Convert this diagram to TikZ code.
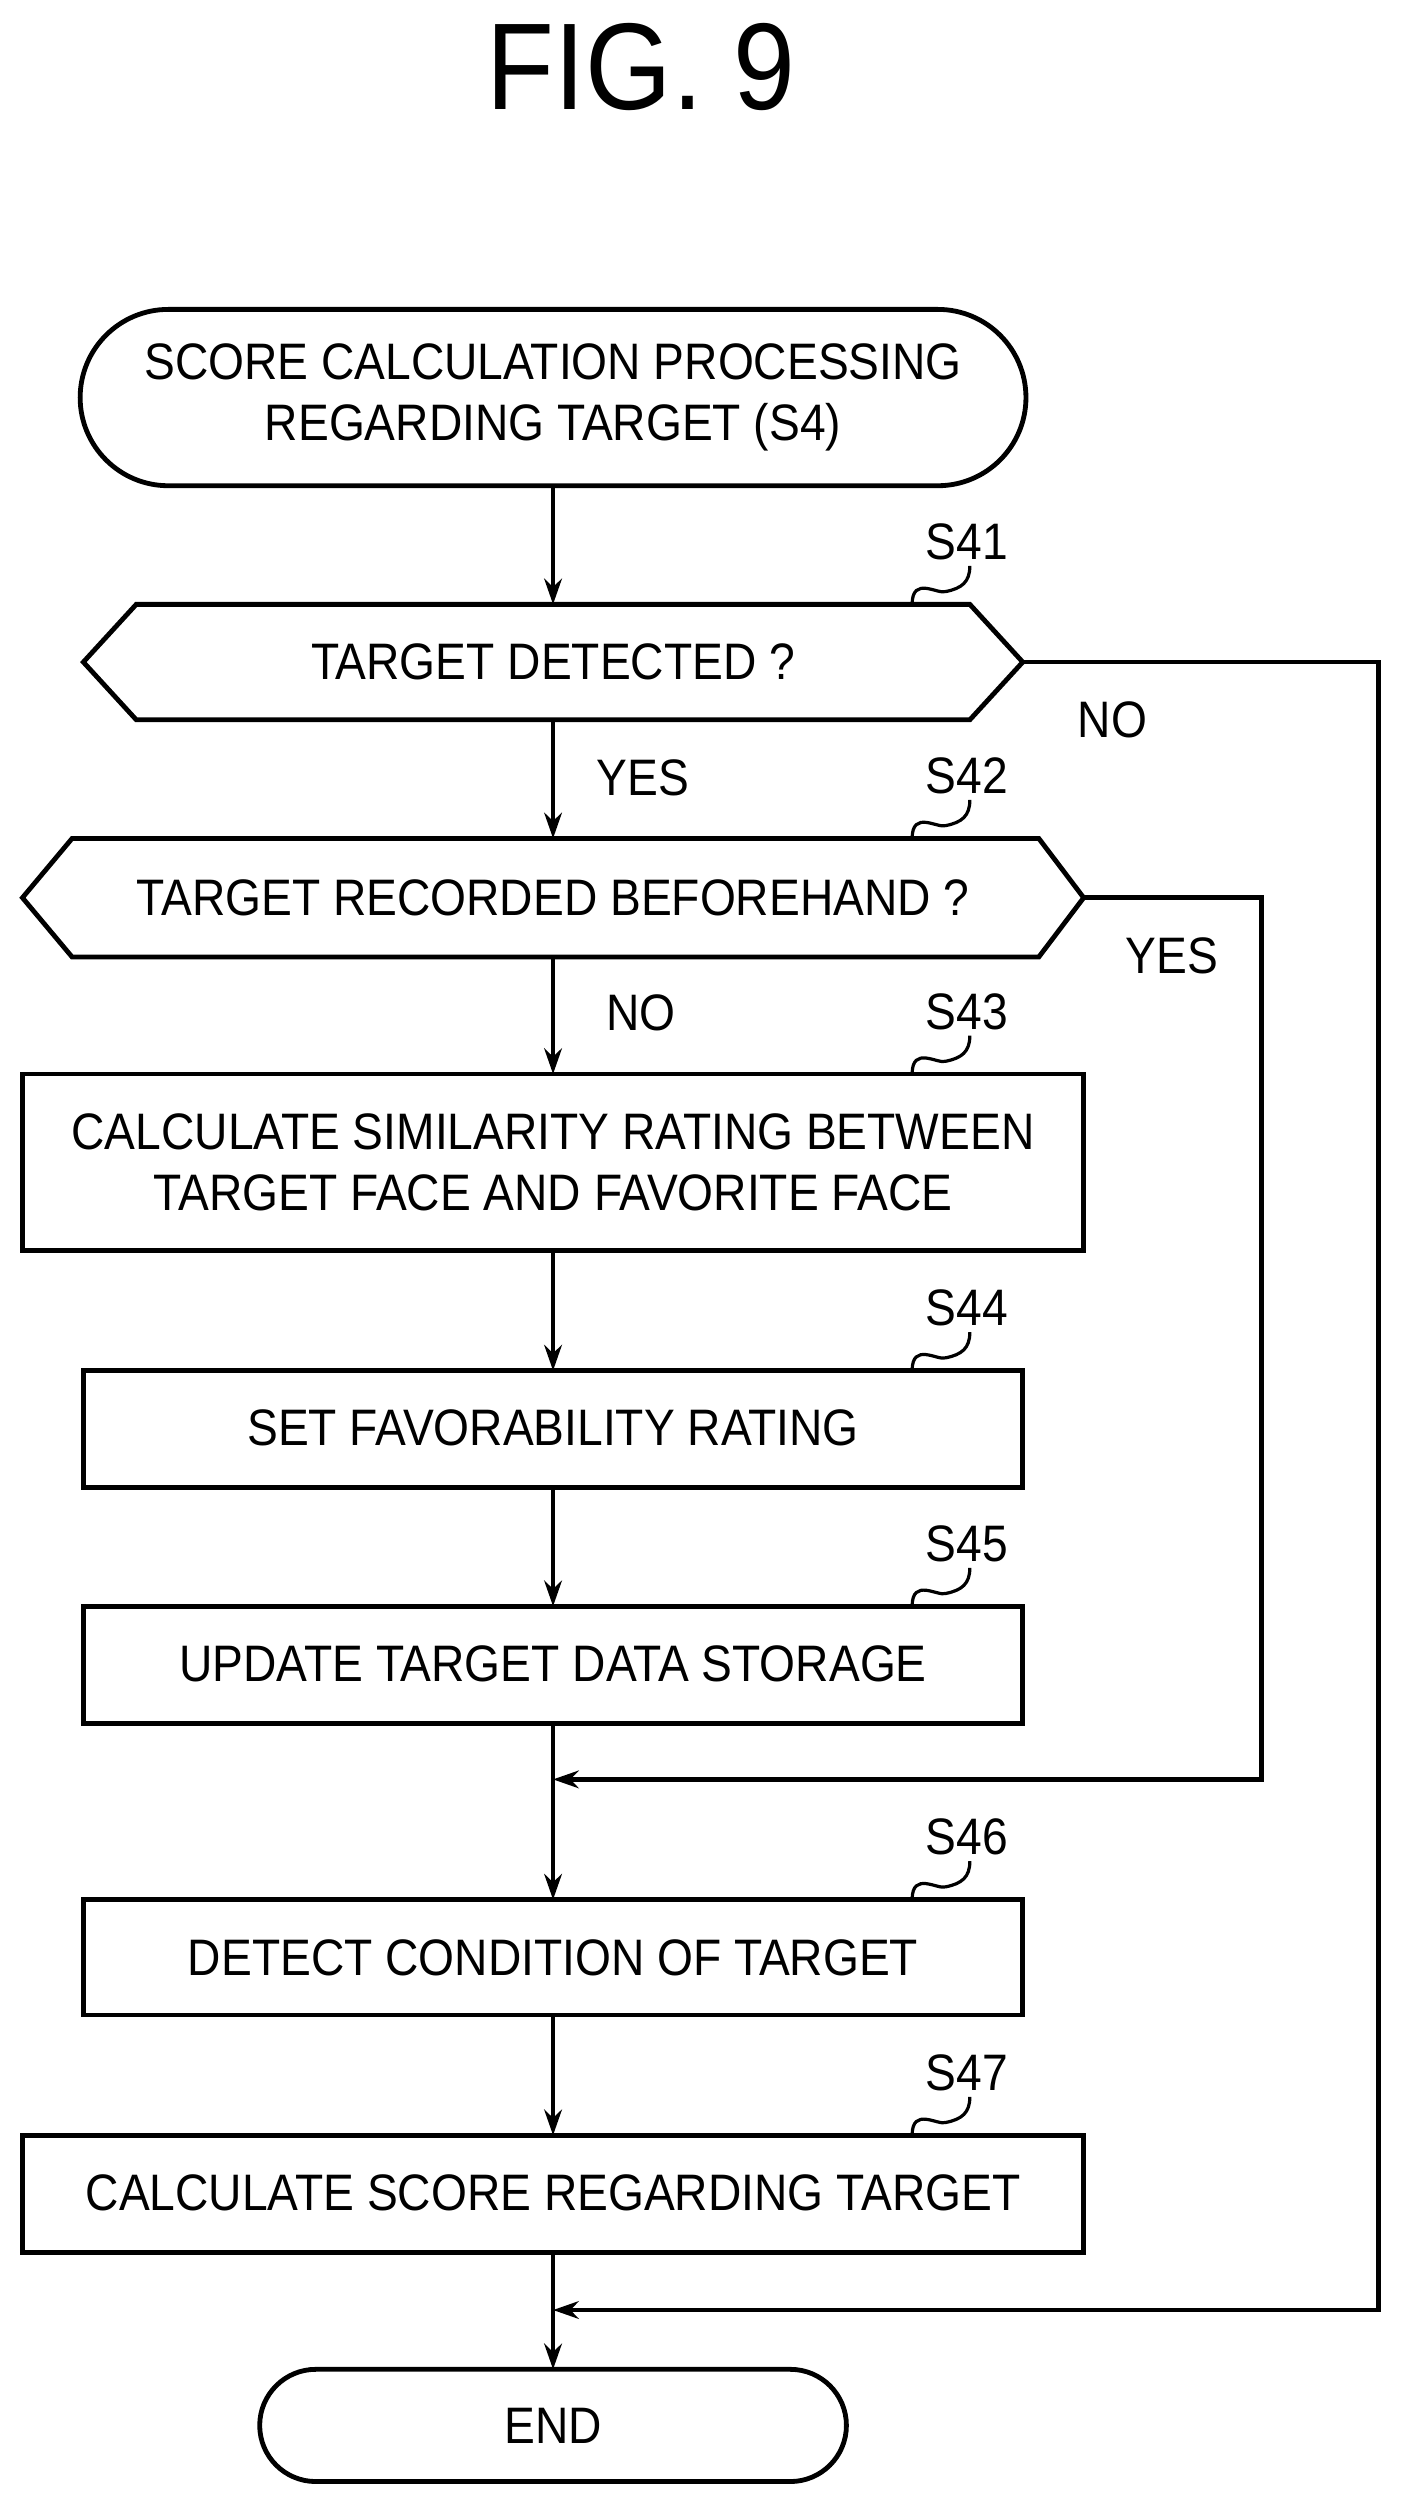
\documentclass[tikz,border=0pt]{standalone}
\usepackage{fontspec}
\setmainfont{Liberation Sans}[FakeStretch=0.9]
\usetikzlibrary{arrows.meta}
\begin{document}
\begin{tikzpicture}[x=1pt,y=-1pt,line width=3pt,
  lbl/.style={font=\fontsize{32}{38}\selectfont,align=center},
  arr/.style={-{Stealth[length=16pt,width=11pt]}},
  sq/.style={line width=2pt}]
\useasboundingbox (0,0) rectangle (877,1572);
\node[font=\fontsize{77}{85}\selectfont] (fig) at (400,42) {FIG. 9};
% start
\draw[rounded corners=55pt] (50,193) rectangle (640,303);
\node[lbl] (st) at (345,248) {SCORE CALCULATION PROCESSING\\REGARDING TARGET (S4)};
\coordinate (stb) at (345,303);
% S41
\draw (52,413) -- (85,377) -- (605,377) -- (638,413) -- (605,449) -- (85,449) -- cycle;
\node[lbl] (d1) at (345,413) {TARGET DETECTED ?};
\coordinate (d1t) at (345,377); \coordinate (d1b) at (345,449); \coordinate (d1r) at (638,413);
% S42
\draw (14,560) -- (45,523) -- (648,523) -- (676,560) -- (648,597) -- (45,597) -- cycle;
\node[lbl] (d2) at (345,560) {TARGET RECORDED BEFOREHAND ?};
\coordinate (d2t) at (345,523); \coordinate (d2b) at (345,597); \coordinate (d2r) at (676,560);
% boxes
\draw (14,670) rectangle (676,780);
\node[lbl] (b3) at (345,725) {CALCULATE SIMILARITY RATING BETWEEN\\TARGET FACE AND FAVORITE FACE};
\draw (52,855) rectangle (638,928);
\node[lbl] (b4) at (345,891) {SET FAVORABILITY RATING};
\draw (52,1002) rectangle (638,1075);
\node[lbl] (b5) at (345,1038) {UPDATE TARGET DATA STORAGE};
\draw (52,1185) rectangle (638,1257);
\node[lbl] (b6) at (345,1221) {DETECT CONDITION OF TARGET};
\draw (14,1332) rectangle (676,1405);
\node[lbl] (b7) at (345,1368) {CALCULATE SCORE REGARDING TARGET};
\draw[rounded corners=35pt] (162,1478) rectangle (528,1548);
\node[lbl] (en) at (345,1513) {END};
% arrows
\draw[arr] (stb) -- (d1t);
\draw[arr] (d1b) -- (d2t);
\draw[arr] (d2b) -- (345,670);
\draw[arr] (345,780) -- (345,855);
\draw[arr] (345,928) -- (345,1002);
\coordinate (j1) at (345,1110); \coordinate (j2) at (345,1441);
\draw (345,1075) -- (j1);
\draw[arr] (j1) -- (345,1185);
\draw[arr] (345,1257) -- (345,1332);
\draw (345,1405) -- (j2);
\draw[arr] (j2) -- (345,1478);
\draw[arr] (d1r) -- (860,413) -- (860,1441) -- (j2);
\draw[arr] (d2r) -- (787,560) -- (787,1110) -- (j1);
% labels
\node[lbl] (y1) at (401,485) {YES};
\node[lbl] (n1) at (694,449) {NO};
\node[lbl] (n2) at (400,632) {NO};
\node[lbl] (y2) at (731,596) {YES};
\foreach \s/\y in {S41/377,S42/523,S43/670,S44/855,S45/1002,S46/1185,S47/1332}{
  \node[lbl] at (603,\y-39) {\s};
  \draw[sq] (569,\y) .. controls (569,\y-18) and (585,\y-6) .. (590,\y-8)
            .. controls (600,\y-10) and (605,\y-14) .. (605,\y-24);
}
\end{tikzpicture}
\end{document}
